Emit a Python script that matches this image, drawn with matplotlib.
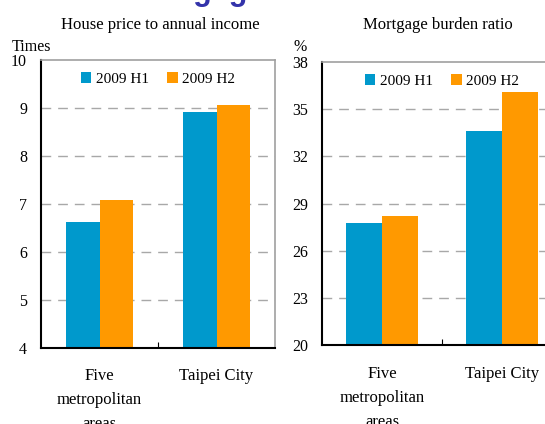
import matplotlib.pyplot as plt

plt.rcParams['font.family'] = ['Liberation Serif', 'DejaVu Serif']

# datos
categorias = ['Five\nmetropolitan\nareas', 'Taipei City']
series = ['2009 H1', '2009 H2']
ratio_h1 = [6.62, 8.91]
ratio_h2 = [7.08, 9.07]
burden_h1 = [27.74, 33.59]
burden_h2 = [28.19, 36.07]
ticks_ratio = [4, 5, 6, 7, 8, 9, 10]
ticks_burden = [20, 23, 26, 29, 32, 35, 38]

azul = '#0099cc'
laranja = '#ff9900'

fig = plt.figure(figsize=(5.45, 4.24), dpi=100)

# titulo cortado no topo da imagem
fig.text(0.233, 1.0, 'Mortgage', family='Liberation Sans', fontweight='bold',
         fontsize=22, color='#3333aa', ha='left', va='baseline')


def painel(rect, v1, v2, yticks, titulo, tx, unidade, ux, bw, cy):
    ax = fig.add_axes(rect)
    x = range(len(categorias))
    ax.bar([i - bw / 2 for i in x], v1, width=bw, color=azul, label=series[0])
    ax.bar([i + bw / 2 for i in x], v2, width=bw, color=laranja, label=series[1])
    ax.set_xlim(-0.5, 1.5)
    ax.set_ylim(yticks[0], yticks[-1])
    ax.set_yticks(yticks)
    ax.tick_params(axis='y', length=0, labelsize=11.5, pad=10)
    ax.set_xticks([0.5])
    ax.set_xticklabels([])
    ax.tick_params(axis='x', direction='in', length=4, width=0.8)
    for y in yticks[1:-1]:
        ax.axhline(y, color='#a8a8a8', lw=1, linestyle=(0, (7, 5)), zorder=0)
    for s in ['left', 'bottom']:
        ax.spines[s].set_linewidth(1.5)
        ax.spines[s].set_color('black')
    for s in ['top', 'right']:
        ax.spines[s].set_linewidth(1.2)
        ax.spines[s].set_color('#a0a0a0')
    # rotulos das categorias (posicao x vem do eixo)
    for i, c in enumerate(categorias):
        xf = ax.transData.transform((i, 0))[0] / fig.bbox.width
        fig.text(xf, 1 - cy / 424, c, ha='center', va='top', fontsize=12,
                 linespacing=1.68)
    fig.text(tx / 545, 1 - 25 / 424, titulo, ha='center', va='center',
             fontsize=12)
    fig.text(ux / 545, 1 - 47 / 424, unidade, ha='left', va='center',
             fontsize=11.5)
    ax.legend(loc='upper center', ncol=2, frameon=False, fontsize=11,
              handlelength=0.7, handleheight=0.7, handletextpad=0.3,
              columnspacing=1.2, borderaxespad=0.4)
    return ax


painel([41 / 545, 76 / 424, 234 / 545, 288 / 424], ratio_h1, ratio_h2,
       ticks_ratio, 'House price to annual income', 160, 'Times', 12, 0.286,
       368)
painel([322 / 545, 79 / 424, 240 / 545, 283 / 424], burden_h1, burden_h2,
       ticks_burden, 'Mortgage burden ratio', 438, '%', 294, 0.296, 366)

plt.savefig('out.png', dpi=100)
